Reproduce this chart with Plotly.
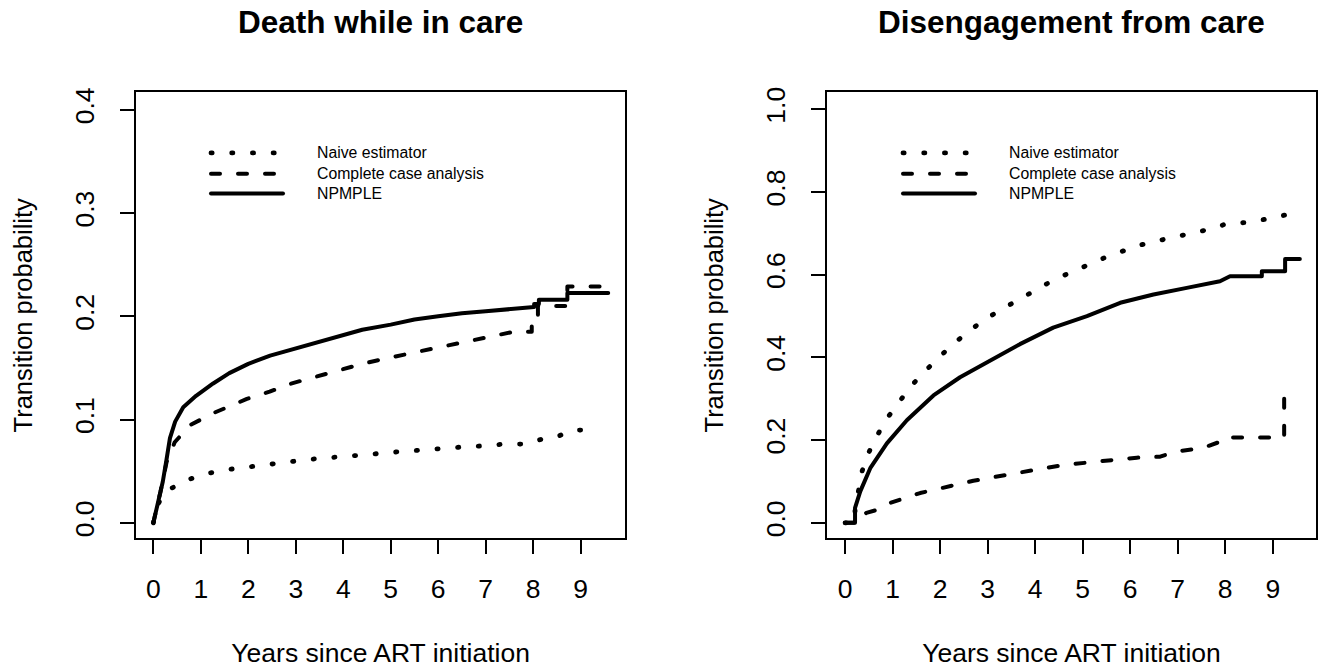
import plotly.graph_objects as go

# ---------------- data ----------------
panel_titles = ["Death while in care", "Disengagement from care"]
series_names = ["Naive estimator", "Complete case analysis", "NPMPLE"]
x_title = "Years since ART initiation"
y_title = "Transition probability"

x_ticks = [0, 1, 2, 3, 4, 5, 6, 7, 8, 9]
y_ticks_left = [0.0, 0.1, 0.2, 0.3, 0.4]
y_ticklabels_left = ["0.0", "0.1", "0.2", "0.3", "0.4"]
y_ticks_right = [0.0, 0.2, 0.4, 0.6, 0.8, 1.0]
y_ticklabels_right = ["0.0", "0.2", "0.4", "0.6", "0.8", "1.0"]

# Death while in care
death_naive_t = [0, 0.1, 0.2, 0.39, 0.76, 1.16, 1.57, 1.99, 2.41, 2.83, 3.25, 3.67, 4.09, 4.5,
                 4.93, 5.35, 5.76, 6.18, 6.58, 7.0, 7.4, 7.83, 8.0, 8.16, 8.53, 8.84, 9.35]
death_naive_p = [0, 0.018, 0.027, 0.0337, 0.0423, 0.048, 0.0516, 0.054, 0.057, 0.059, 0.0613,
                 0.063, 0.064, 0.066, 0.068, 0.0696, 0.0712, 0.072, 0.0737, 0.0747, 0.0763,
                 0.0763, 0.078, 0.0808, 0.084, 0.0898, 0.09]

death_cc_t = [0, 0.1, 0.15, 0.28, 0.45, 0.77, 1.0, 1.3, 1.97, 2.45, 2.88, 3.4, 3.86, 4.4, 4.98,
              5.5, 5.97, 6.5, 6.95, 7.3, 7.58, 7.97, 7.97, 8.1, 8.1, 8.72, 8.72, 9.5]
death_cc_p = [0, 0.018, 0.03, 0.059, 0.078, 0.0946, 0.1, 0.107, 0.12, 0.127, 0.1346, 0.141,
              0.1475, 0.154, 0.160, 0.165, 0.17, 0.175, 0.1795, 0.183, 0.185, 0.185, 0.2, 0.2,
              0.21, 0.21, 0.229, 0.229]

death_np_t = [0, 0.1, 0.2, 0.28, 0.35, 0.46, 0.63, 0.9, 1.26, 1.6, 2.0, 2.46, 3.0, 3.4, 4.0, 4.4,
              5.0, 5.5, 6.0, 6.5, 7.0, 7.5, 7.95, 8.02, 8.02, 8.12, 8.12, 8.72, 8.72, 9.58]
death_np_p = [0, 0.02, 0.04, 0.062, 0.082, 0.098, 0.112, 0.123, 0.135, 0.145, 0.154, 0.162,
              0.169, 0.175, 0.182, 0.187, 0.192, 0.197, 0.2, 0.203, 0.205, 0.207, 0.209, 0.209,
              0.212, 0.212, 0.216, 0.216, 0.2225, 0.2225]

# Disengagement from care
dis_naive_t = [0, 0.2, 0.21, 0.28, 0.35, 0.49, 0.67, 0.88, 1.11, 1.37, 1.64, 1.93, 2.23, 2.55,
               2.88, 3.23, 3.59, 3.94, 4.31, 4.68, 5.06, 5.44, 5.82, 6.19, 6.58, 6.97, 7.34,
               7.72, 8.05, 8.47, 8.85, 9.21, 9.3, 9.42]
dis_naive_p = [0, 0, 0.03, 0.076, 0.122, 0.168, 0.21, 0.252, 0.29, 0.328, 0.362, 0.396, 0.428,
               0.458, 0.487, 0.512, 0.536, 0.56, 0.582, 0.602, 0.622, 0.64, 0.656, 0.671,
               0.682, 0.692, 0.702, 0.711, 0.724, 0.726, 0.734, 0.742, 0.745, 0.77]

dis_cc_t = [0, 0.21, 0.21, 0.45, 0.63, 0.95, 1.58, 2.14, 2.7, 3.4, 3.96, 4.52, 5.09, 5.58, 6.14,
            6.63, 6.94, 7.47, 7.5, 7.89, 7.96, 9.24, 9.24, 9.47]
dis_cc_p = [0, 0, 0.012, 0.024, 0.03, 0.048, 0.072, 0.088, 0.1016, 0.116, 0.128, 0.1384,
            0.1456, 0.152, 0.1576, 0.16, 0.172, 0.18, 0.18, 0.196, 0.206, 0.206, 0.30, 0.30]

dis_np_t = [0, 0.21, 0.21, 0.32, 0.53, 0.88, 1.30, 1.86, 2.42, 2.98, 3.68, 4.38, 5.09, 5.79,
            6.49, 7.19, 7.89, 8.1, 8.77, 8.77, 9.26, 9.26, 9.57]
dis_np_p = [0, 0, 0.036, 0.076, 0.132, 0.192, 0.248, 0.308, 0.352, 0.388, 0.432, 0.472, 0.50,
            0.532, 0.552, 0.568, 0.584, 0.596, 0.596, 0.608, 0.608, 0.638, 0.638]

# ---------------- styling ----------------
W, H = 1326, 671
FONT = "Liberation Sans, Arial, Helvetica, sans-serif"
LW = 4
DASHES = ["1.2px,19.5px", "9px,18px", "solid"]
WIDTHS = [4.8, LW, LW]

fig = go.Figure()

panels = [
    ("x", "y", [(death_naive_t, death_naive_p), (death_cc_t, death_cc_p), (death_np_t, death_np_p)]),
    ("x2", "y2", [(dis_naive_t, dis_naive_p), (dis_cc_t, dis_cc_p), (dis_np_t, dis_np_p)]),
]
for xa, ya, series in panels:
    for (t, p), name, dash, w in zip(series, series_names, DASHES, WIDTHS):
        fig.add_trace(go.Scatter(x=t, y=p, mode="lines", name=name, xaxis=xa, yaxis=ya,
                                 line=dict(color="black", width=w, dash=dash),
                                 showlegend=False, hoverinfo="skip"))

# plot-area geometry (pixels)
L_X0, L_X1 = 136, 625.3
R_X0, R_X1 = 827, 1316
Y_TOP, Y_BOT = 88, 537.3

def px(x):
    return x / W

def py(y):
    return 1 - y / H

axis_common = dict(showline=True, linecolor="black", linewidth=1.8, mirror=True,
                   ticks="outside", ticklen=14, tickwidth=1.6, tickcolor="black",
                   showgrid=False, zeroline=False,
                   tickfont=dict(family=FONT, size=26.5, color="black"))

xcommon = dict(axis_common, tickvals=x_ticks, ticklabelstandoff=12,
               title=dict(text=x_title, font=dict(family=FONT, size=26.5, color="black"), standoff=40))
ycommon = dict(axis_common, tickangle=-90, ticklabelstandoff=16,
               title=dict(text=y_title, font=dict(family=FONT, size=25.5, color="black"), standoff=30))

fig.update_layout(
    width=W, height=H,
    margin=dict(l=0, r=0, t=0, b=0),
    paper_bgcolor="white", plot_bgcolor="white",
    font=dict(family=FONT, color="black"),
    xaxis=dict(xcommon, domain=[px(L_X0), px(L_X1)], range=[-0.365, 9.94], anchor="y"),
    yaxis=dict(ycommon, domain=[py(Y_BOT), py(Y_TOP)], range=[-0.015, 0.417], anchor="x",
               tickvals=y_ticks_left, ticktext=y_ticklabels_left),
    xaxis2=dict(xcommon, domain=[px(R_X0), px(R_X1)], range=[-0.38, 9.91], anchor="y2"),
    yaxis2=dict(ycommon, domain=[py(Y_BOT), py(Y_TOP)], range=[-0.0374, 1.0408], anchor="x2",
                tickvals=y_ticks_right, ticktext=y_ticklabels_right),
    showlegend=False,
)

# panel titles
for title, (x0, x1) in zip(panel_titles, [(L_X0, L_X1), (R_X0, R_X1)]):
    fig.add_annotation(text="<b>%s</b>" % title, x=px((x0 + x1) / 2), y=py(17),
                       xref="paper", yref="paper", showarrow=False,
                       xanchor="center", yanchor="middle",
                       font=dict(family=FONT, size=31.5, color="black"))

# legends (drawn inside each panel)
legend_rows = [149, 170, 190]
for key_x0, key_x1, text_x in [(211, 283, 315), (903, 975, 1007)]:
    for row_y, name, dash, w in zip(legend_rows, series_names, DASHES, WIDTHS):
        fig.add_shape(type="line", xref="paper", yref="paper",
                      x0=px(key_x0), x1=px(key_x1), y0=py(row_y), y1=py(row_y),
                      line=dict(color="black", width=w, dash=dash))
        fig.add_annotation(text=name, x=px(text_x), y=py(row_y), xref="paper", yref="paper",
                           showarrow=False, xanchor="left", yanchor="middle",
                           font=dict(family=FONT, size=15.8, color="black"))

post = ("document.body.style.margin='0';document.body.style.padding='0';"
        "var st=document.createElement('style');"
        "st.textContent='.js-line, .shapelayer path{stroke-linecap:round !important;"
        "stroke-linejoin:round !important;}';"
        "document.head.appendChild(st);")
fig.write_html("out.html", post_script=post, config={"displayModeBar": False})
